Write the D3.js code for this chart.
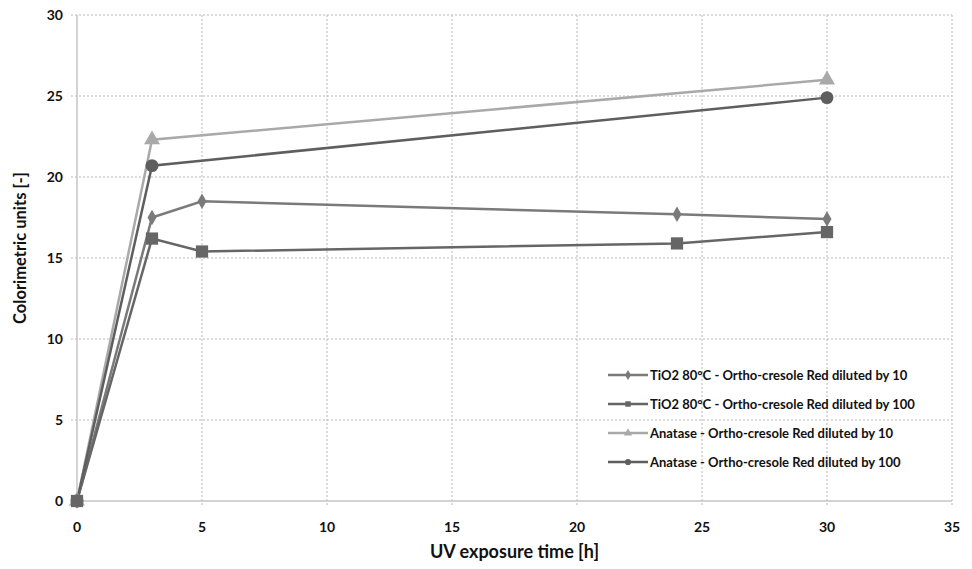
<!DOCTYPE html>
<html>
<head>
<meta charset="utf-8">
<script src="https://cdn.jsdelivr.net/npm/d3@7"></script>
<style>
  body { margin: 0; background: #fff; }
  text { font-family: Lato, "Open Sans", sans-serif; font-weight: bold; fill: #111; }
</style>
</head>
<body>
<div id="chart"></div>
<script>
// series data
var seriesNames = [
  "TiO2 80°C - Ortho-cresole Red diluted by 10",
  "TiO2 80°C - Ortho-cresole Red diluted by 100",
  "Anatase - Ortho-cresole Red diluted by 10",
  "Anatase - Ortho-cresole Red diluted by 100"
];
var timeTio2 = [0, 3, 5, 24, 30];
var tio2Dil10 = [0, 17.5, 18.5, 17.7, 17.4];
var tio2Dil100 = [0, 16.2, 15.4, 15.9, 16.6];
var timeAnatase = [0, 3, 30];
var anataseDil10 = [0, 22.3, 26.0];
var anataseDil100 = [0, 20.7, 24.9];
var xTicks = [0, 5, 10, 15, 20, 25, 30, 35];
var yTicks = [0, 5, 10, 15, 20, 25, 30];

var width = 972, height = 569;
var margin = {top: 15, right: 20, bottom: 68, left: 77};

var svg = d3.select("#chart").append("svg")
    .attr("width", width)
    .attr("height", height);

var x = d3.scaleLinear().domain([0, 35]).range([margin.left, margin.left + 875]);
var y = d3.scaleLinear().domain([0, 30]).range([501, margin.top]);

var series = [
  {name: seriesNames[0], xs: timeTio2, ys: tio2Dil10, color: "#7a7a7a", shape: d3.symbolDiamond, size: 70},
  {name: seriesNames[1], xs: timeTio2, ys: tio2Dil100, color: "#666666", shape: d3.symbolSquare, size: 150},
  {name: seriesNames[2], xs: timeAnatase, ys: anataseDil10, color: "#a9a9a9", shape: d3.symbolTriangle, size: 110},
  {name: seriesNames[3], xs: timeAnatase, ys: anataseDil100, color: "#5e5e5e", shape: d3.symbolCircle, size: 130}
];

// gridlines
svg.append("g").selectAll("line.h")
  .data(yTicks.filter(function(d) { return d > 0; }))
  .enter().append("line")
    .attr("x1", x(0) - 6).attr("x2", x(35))
    .attr("y1", function(d) { return y(d); })
    .attr("y2", function(d) { return y(d); })
    .attr("stroke", "#b8b8b8")
    .attr("stroke-dasharray", "2,2");

svg.append("g").selectAll("line.v")
  .data(xTicks.filter(function(d) { return d > 0; }))
  .enter().append("line")
    .attr("x1", function(d) { return x(d); })
    .attr("x2", function(d) { return x(d); })
    .attr("y1", y(30)).attr("y2", y(0) + 5)
    .attr("stroke", "#b8b8b8")
    .attr("stroke-dasharray", "2,2");

// axes lines
svg.append("line")
  .attr("x1", x(0)).attr("x2", x(0))
  .attr("y1", y(30)).attr("y2", y(0))
  .attr("stroke", "#c4c4c4").attr("stroke-width", 1.5);
svg.append("line")
  .attr("x1", x(0) - 6).attr("x2", x(35))
  .attr("y1", y(0)).attr("y2", y(0))
  .attr("stroke", "#c4c4c4").attr("stroke-width", 1.5);

// tick labels
svg.append("g").selectAll("text")
  .data(yTicks)
  .enter().append("text")
    .attr("x", x(0) - 14)
    .attr("y", function(d) { return y(d); })
    .attr("dy", "0.35em")
    .attr("text-anchor", "end")
    .style("font-size", "14px")
    .text(function(d) { return d; });

svg.append("g").selectAll("text")
  .data(xTicks)
  .enter().append("text")
    .attr("x", function(d) { return x(d); })
    .attr("y", 527)
    .attr("dy", "0.35em")
    .attr("text-anchor", "middle")
    .style("font-size", "14px")
    .text(function(d) { return d; });

// axis titles
svg.append("text")
  .attr("x", x(17.5))
  .attr("y", 552)
  .attr("dy", "0.35em")
  .attr("text-anchor", "middle")
  .style("font-size", "18px")
  .text("UV exposure time [h]");

svg.append("text")
  .attr("transform", "translate(20,248) rotate(-90)")
  .attr("dy", "0.35em")
  .attr("text-anchor", "middle")
  .style("font-size", "16.5px")
  .text("Colorimetric units [-]");

// lines first, then markers (squares on top)
var line = d3.line()
  .x(function(d) { return x(d[0]); })
  .y(function(d) { return y(d[1]); });

series.forEach(function(s) {
  s.pts = s.xs.map(function(t, i) { return [t, s.ys[i]]; });
  svg.append("path")
    .datum(s.pts)
    .attr("d", line)
    .attr("fill", "none")
    .attr("stroke", s.color)
    .attr("stroke-width", 2.5);
});

[2, 3, 0, 1].forEach(function(k) {
  var s = series[k];
  svg.append("g").selectAll("path")
    .data(s.pts)
    .enter().append("path")
      .attr("transform", function(d) { return "translate(" + x(d[0]) + "," + y(d[1]) + ")"; })
      .attr("d", d3.symbol().type(s.shape).size(s.size))
      .attr("fill", s.color);
});

// legend
var legendRows = [375, 404, 433, 462];
var legend = svg.append("g");
series.forEach(function(s, i) {
  var g = legend.append("g").attr("transform", "translate(608," + legendRows[i] + ")");
  g.append("line").attr("x1", 0).attr("x2", 40)
    .attr("stroke", s.color).attr("stroke-width", 2.5);
  g.append("path")
    .attr("transform", "translate(20,0)")
    .attr("d", d3.symbol().type(s.shape).size(30))
    .attr("fill", s.color);
  g.append("text")
    .attr("x", 42)
    .attr("dy", "0.35em")
    .style("font-size", "13px")
    .text(s.name);
});
</script>
</body>
</html>
